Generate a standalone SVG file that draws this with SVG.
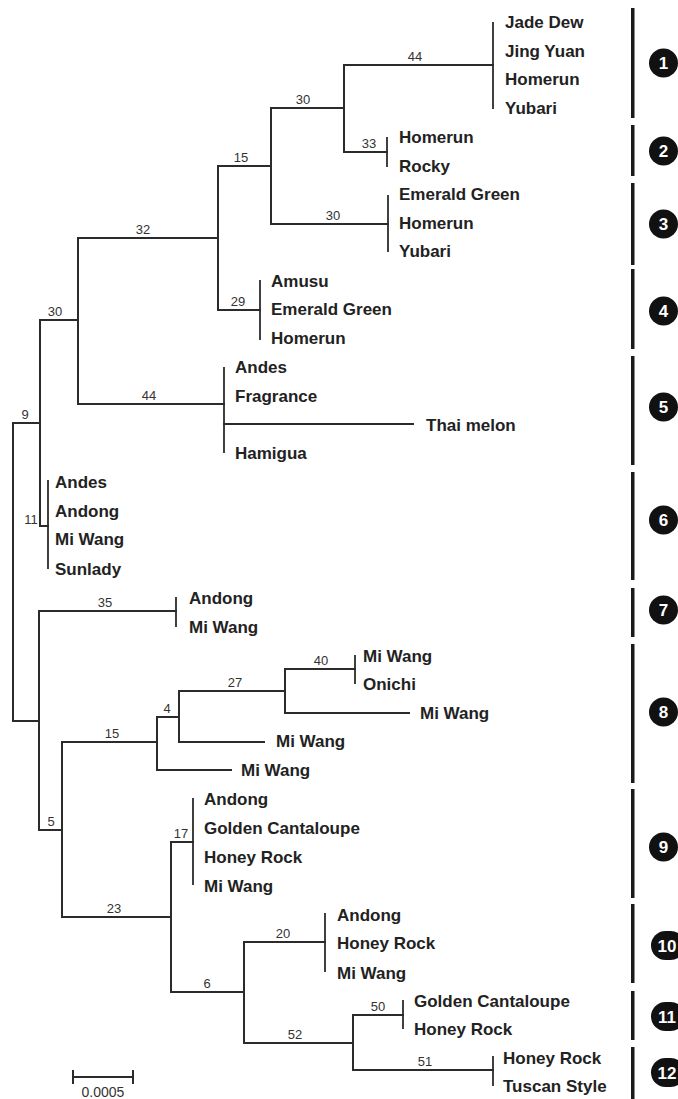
<svg xmlns="http://www.w3.org/2000/svg" width="678" height="1099" viewBox="0 0 678 1099">
<style>
.br{fill:none;stroke:#2b2b2b;stroke-width:2;stroke-linecap:square}
.tip{fill:none;stroke:#2b2b2b;stroke-width:1.8}
.lf{font-family:"Liberation Sans",Arial,sans-serif;font-weight:bold;font-size:17px;fill:#222}
.bs{font-family:"Liberation Sans",Arial,sans-serif;font-size:13px;fill:#333;text-anchor:middle}
.bar{fill:#1a1a1a}
.cn{fill:#111}
.ct{font-family:"Liberation Sans",Arial,sans-serif;font-weight:bold;font-size:17px;fill:#fff;text-anchor:middle}
</style>
<rect width="678" height="1099" fill="#fff"/>
<g id="connectors">
<path class="br" d="M13,423V721M13,423H40M13,721H39"/>
<path class="br" d="M40,320V526M40,320H78M40,526H48"/>
<path class="br" d="M78,238V404M78,238H218M78,404H224"/>
<path class="br" d="M218,166V310M218,166H271M218,310H260"/>
<path class="br" d="M271,108V224M271,108H344M271,224H388"/>
<path class="br" d="M344,65V152M344,65H493M344,152H387"/>
<path class="br" d="M224,424H413"/>
<path class="br" d="M39,611V830M39,611H176M39,830H62"/>
<path class="br" d="M62,742V917M62,742H157M62,917H171"/>
<path class="br" d="M157,717V770M157,717H179M157,770H231"/>
<path class="br" d="M179,691V742M179,691H285M179,742H264"/>
<path class="br" d="M285,669V713M285,669H355M285,713H409"/>
<path class="br" d="M171,842V992M171,842H193M171,992H244"/>
<path class="br" d="M244,942V1043M244,942H325M244,1043H353"/>
<path class="br" d="M353,1015V1070M353,1015H403M353,1070H493"/>
<text class="bs" x="415" y="61">44</text>
<text class="bs" x="303" y="104">30</text>
<text class="bs" x="369" y="148">33</text>
<text class="bs" x="241" y="162">15</text>
<text class="bs" x="333" y="220">30</text>
<text class="bs" x="143" y="234">32</text>
<text class="bs" x="238" y="306">29</text>
<text class="bs" x="55" y="316">30</text>
<text class="bs" x="149" y="400">44</text>
<text class="bs" x="25" y="419">9</text>
<text class="bs" x="31" y="524">11</text>
<text class="bs" x="105" y="607">35</text>
<text class="bs" x="321" y="665">40</text>
<text class="bs" x="235" y="687">27</text>
<text class="bs" x="167" y="713">4</text>
<text class="bs" x="112" y="738">15</text>
<text class="bs" x="51" y="826">5</text>
<text class="bs" x="181" y="838">17</text>
<text class="bs" x="114" y="913">23</text>
<text class="bs" x="283" y="938">20</text>
<text class="bs" x="207" y="988">6</text>
<text class="bs" x="295" y="1039">52</text>
<text class="bs" x="378" y="1011">50</text>
<text class="bs" x="425" y="1066">51</text>
</g>
<g id="clade1">
<path class="tip" d="M493,22V109"/>
<text class="lf" x="505" y="28">Jade Dew</text>
<text class="lf" x="505" y="57">Jing Yuan</text>
<text class="lf" x="505" y="85">Homerun</text>
<text class="lf" x="505" y="114">Yubari</text>
</g>
<g id="clade2">
<path class="tip" d="M387,137V167"/>
<text class="lf" x="399" y="143">Homerun</text>
<text class="lf" x="399" y="172">Rocky</text>
</g>
<g id="clade3">
<path class="tip" d="M388,195V252"/>
<text class="lf" x="399" y="200">Emerald Green</text>
<text class="lf" x="399" y="229">Homerun</text>
<text class="lf" x="399" y="257">Yubari</text>
</g>
<g id="clade4">
<path class="tip" d="M260,280V340"/>
<text class="lf" x="271" y="287">Amusu</text>
<text class="lf" x="271" y="315">Emerald Green</text>
<text class="lf" x="271" y="344">Homerun</text>
</g>
<g id="clade5">
<path class="tip" d="M224,367V453"/>
<text class="lf" x="235" y="373">Andes</text>
<text class="lf" x="235" y="402">Fragrance</text>
<text class="lf" x="235" y="459">Hamigua</text>
<text class="lf" x="426" y="431">Thai melon</text>
</g>
<g id="clade6">
<path class="tip" d="M48,480V569"/>
<text class="lf" x="55" y="488">Andes</text>
<text class="lf" x="55" y="517">Andong</text>
<text class="lf" x="55" y="545">Mi Wang</text>
<text class="lf" x="55" y="575">Sunlady</text>
</g>
<g id="clade7">
<path class="tip" d="M176,597V627"/>
<text class="lf" x="189" y="604">Andong</text>
<text class="lf" x="189" y="633">Mi Wang</text>
</g>
<g id="clade8">
<path class="tip" d="M355,655V684"/>
<text class="lf" x="363" y="662">Mi Wang</text>
<text class="lf" x="363" y="690">Onichi</text>
<text class="lf" x="420" y="719">Mi Wang</text>
<text class="lf" x="276" y="747">Mi Wang</text>
<text class="lf" x="241" y="776">Mi Wang</text>
</g>
<g id="clade9">
<path class="tip" d="M193,798V885"/>
<text class="lf" x="204" y="805">Andong</text>
<text class="lf" x="204" y="834">Golden Cantaloupe</text>
<text class="lf" x="204" y="863">Honey Rock</text>
<text class="lf" x="204" y="892">Mi Wang</text>
</g>
<g id="clade10">
<path class="tip" d="M325,913V972"/>
<text class="lf" x="337" y="921">Andong</text>
<text class="lf" x="337" y="949">Honey Rock</text>
<text class="lf" x="337" y="979">Mi Wang</text>
</g>
<g id="clade11">
<path class="tip" d="M403,1000V1029"/>
<text class="lf" x="414" y="1007">Golden Cantaloupe</text>
<text class="lf" x="414" y="1035">Honey Rock</text>
</g>
<g id="clade12">
<path class="tip" d="M493,1056V1086"/>
<text class="lf" x="503" y="1064">Honey Rock</text>
<text class="lf" x="503" y="1092">Tuscan Style</text>
</g>
<g id="groups">
<rect class="bar" x="631" y="8" width="3.5" height="110"/>
<rect class="bar" x="631" y="125" width="3.5" height="51"/>
<rect class="bar" x="631" y="183" width="3.5" height="82"/>
<rect class="bar" x="631" y="269" width="3.5" height="80"/>
<rect class="bar" x="631" y="356" width="3.5" height="109"/>
<rect class="bar" x="631" y="472" width="3.5" height="108"/>
<rect class="bar" x="631" y="588" width="3.5" height="49"/>
<rect class="bar" x="631" y="644" width="3.5" height="139"/>
<rect class="bar" x="631" y="789" width="3.5" height="109"/>
<rect class="bar" x="631" y="904" width="3.5" height="79"/>
<rect class="bar" x="631" y="991" width="3.5" height="49"/>
<rect class="bar" x="631" y="1047" width="3.5" height="52"/>
<g id="g1"><circle class="cn" cx="663.5" cy="63" r="14.5"/><text class="ct" x="663.5" y="69">1</text></g>
<g id="g2"><circle class="cn" cx="663.5" cy="151" r="14.5"/><text class="ct" x="663.5" y="157">2</text></g>
<g id="g3"><circle class="cn" cx="663.5" cy="224" r="14.5"/><text class="ct" x="663.5" y="230">3</text></g>
<g id="g4"><circle class="cn" cx="663.5" cy="311" r="14.5"/><text class="ct" x="663.5" y="317">4</text></g>
<g id="g5"><circle class="cn" cx="663.5" cy="407" r="14.5"/><text class="ct" x="663.5" y="413">5</text></g>
<g id="g6"><circle class="cn" cx="663.5" cy="520" r="14.5"/><text class="ct" x="663.5" y="526">6</text></g>
<g id="g7"><circle class="cn" cx="663.5" cy="610" r="14.5"/><text class="ct" x="663.5" y="616">7</text></g>
<g id="g8"><circle class="cn" cx="663.5" cy="712" r="14.5"/><text class="ct" x="663.5" y="718">8</text></g>
<g id="g9"><circle class="cn" cx="663.5" cy="847" r="14.5"/><text class="ct" x="663.5" y="853">9</text></g>
<g id="g10"><rect class="cn" x="651" y="931" width="34" height="29" rx="14.5"/><text class="ct" x="667" y="952">10</text></g>
<g id="g11"><rect class="cn" x="651" y="1002" width="34" height="29" rx="14.5"/><text class="ct" x="667" y="1023">11</text></g>
<g id="g12"><rect class="cn" x="651" y="1058" width="34" height="29" rx="14.5"/><text class="ct" x="667" y="1079">12</text></g>
</g>
<g id="scale">
<path class="br" d="M73,1077H133M73,1071V1083M133,1071V1083"/>
<text class="bs" x="103" y="1097" style="font-size:14px">0.0005</text>
</g>
</svg>
